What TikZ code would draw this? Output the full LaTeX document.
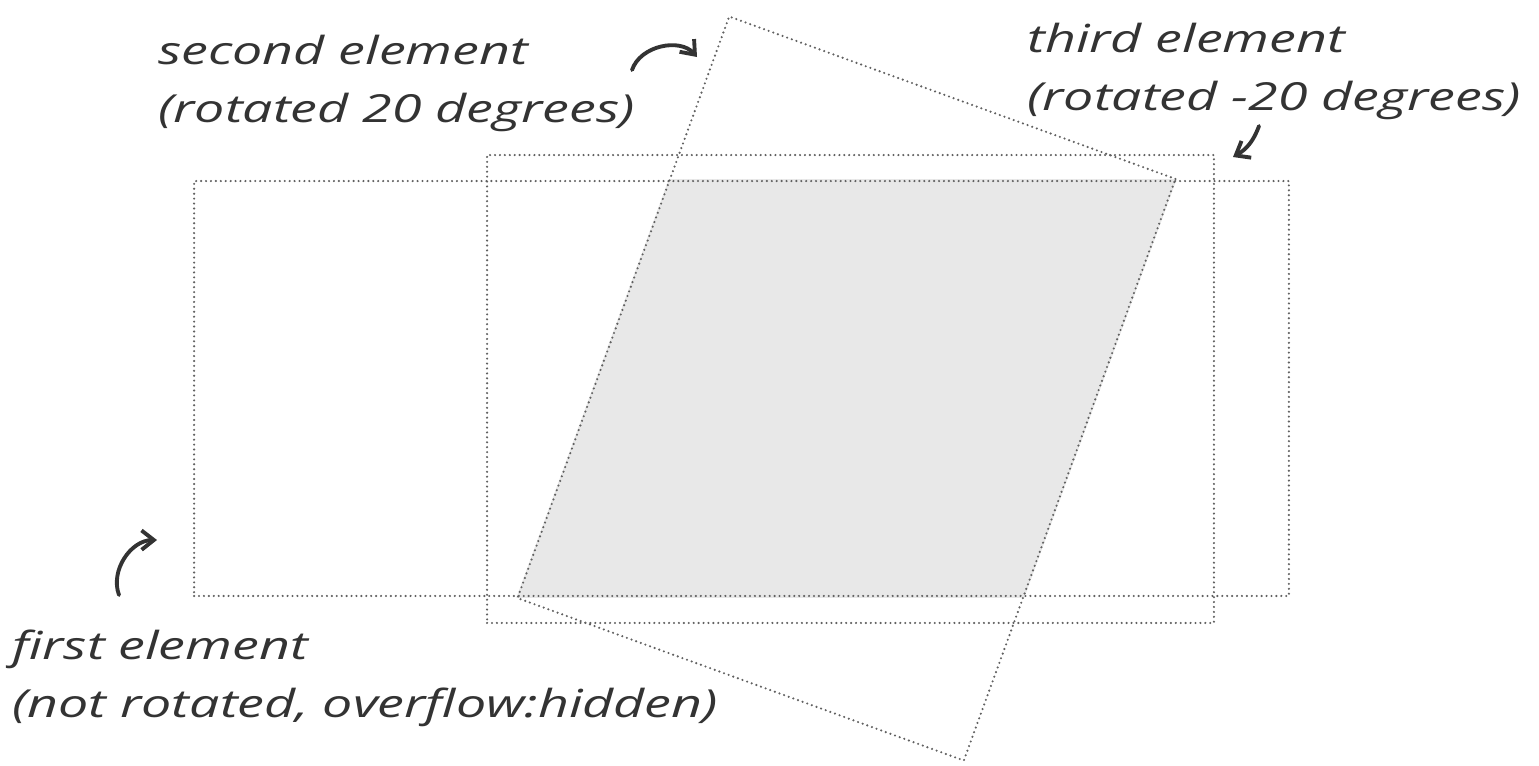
\documentclass[tikz,border=0pt]{standalone}
\usepackage{fontspec}
\setmainfont{Open Sans}[FakeStretch=1.39]
\usetikzlibrary{arrows.meta,backgrounds}

\tikzset{
  elem/.style={draw=black!62, line width=1.35pt, dash pattern=on 0pt off 2.8pt, line cap=round, inner sep=0pt},
  note/.style={anchor=base west, align=left, inner sep=0pt, text=black!80,
    font=\fontsize{22}{33}\selectfont\itshape},
  hand/.style={draw=black!80, line width=2.2pt, line cap=round, -{Straight Barb[length=7pt,width=11pt]}}
}

\begin{document}
\begin{tikzpicture}[x=0.02cm,y=-0.02cm]
\useasboundingbox (0,0) rectangle (1539,765);

% the three elements
\node[elem, minimum width=21.9cm, minimum height=8.3cm] (first) at (741.5,388.5) {};
\node[elem, minimum width=14.54cm, minimum height=9.36cm] (third) at (850.5,389) {};
\node[elem, minimum width=9.5cm, minimum height=12.38cm, rotate=-20] (second) at (846.5,388.5) {};

% visible part
\begin{scope}[on background layer]
\clip (first.south west) rectangle (first.north east);
\fill[black!9] (second.north west) -- (second.north east) -- (second.south east) -- (second.south west) -- cycle;
\end{scope}

% labels (anchored on their last line)
\node[note] (lsecond) at (158,122) {second element\\(rotated 20 degrees)};
\node[note] (lthird) at (1027,110) {third element\\(rotated -20 degrees)};
\node[note] (lfirst) at (12,717) {first element\\(not rotated, overflow:hidden)};

% arrows
\coordinate (a1) at (632,70);
\coordinate (b1) at (697,57);
\coordinate (a2) at (1259,126);
\coordinate (b2) at (1233,157);
\coordinate (a3) at (119,595);
\coordinate (b3) at (157,540);
\draw[hand] (a1) to[bend left=60] (b1);
\draw[hand] (a2) to[bend left=20] (b2);
\draw[hand] (a3) to[bend left=55] (b3);
\end{tikzpicture}
\end{document}
